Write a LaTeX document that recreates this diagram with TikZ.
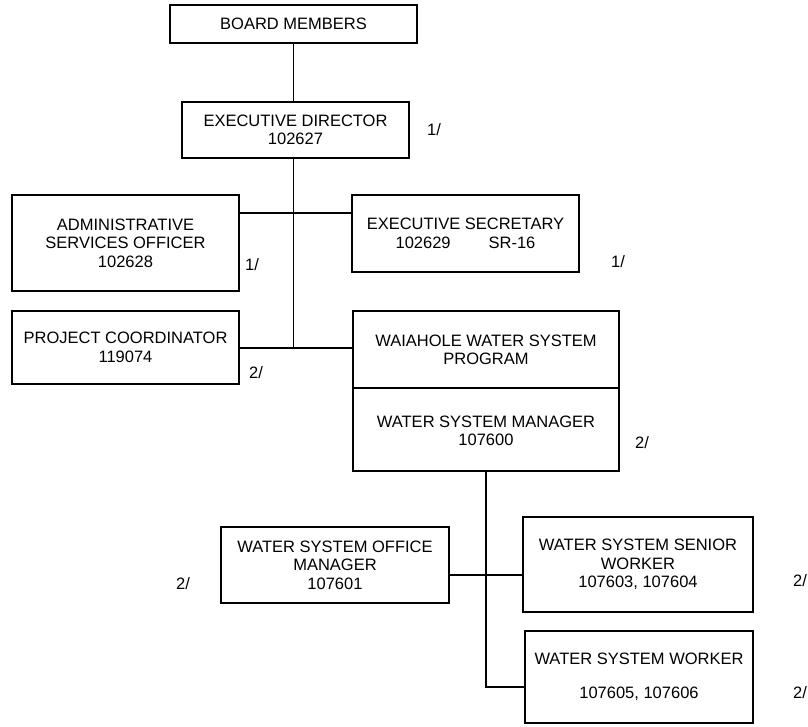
\documentclass[tikz,border=0pt]{standalone}
\usepackage{fontspec}
\setmainfont{Liberation Sans}
\begin{document}
\begin{tikzpicture}[x=1pt,y=-1pt,
  box/.style={draw,line width=1.1pt,align=center,inner sep=0pt,font=\fontsize{16.5}{18.5}\selectfont},
  note/.style={font=\fontsize{16.5}{18.5}\selectfont,inner sep=0pt},
  link/.style={line width=1.1pt}]
\useasboundingbox (0,0) rectangle (808,726);

\node[box,minimum width=247pt,minimum height=38pt] (board) at (293.5,24) {BOARD MEMBERS};
\node[box,minimum width=227pt,minimum height=56pt] (exec) at (295.5,130) {EXECUTIVE DIRECTOR\\102627};
\node[box,minimum width=227pt,minimum height=96pt] (admin) at (125.5,243) {ADMINISTRATIVE\\SERVICES OFFICER\\102628};
\node[box,minimum width=227pt,minimum height=77pt] (sec) at (465.5,233.5) {EXECUTIVE SECRETARY\\102629\hspace{38pt}SR-16};
\node[box,minimum width=227pt,minimum height=73pt] (proj) at (125.5,347.5) {PROJECT COORDINATOR\\119074};
\node[draw,line width=1.1pt,minimum width=266pt,minimum height=160pt,inner sep=0pt] (wai) at (486,391) {};
\node[note,align=center] (waitop) at (486,350) {WAIAHOLE WATER SYSTEM\\PROGRAM};
\node[note,align=center] (waibot) at (486,431) {WATER SYSTEM MANAGER\\107600};
\coordinate (divl) at (353,388);
\coordinate (divr) at (619,388);
\node[box,minimum width=228pt,minimum height=76pt] (office) at (335,565) {WATER SYSTEM OFFICE\\MANAGER\\107601};
\node[box,minimum width=230pt,minimum height=95pt] (senior) at (638,564.5) {WATER SYSTEM SENIOR\\WORKER\\107603, 107604};
\node[box,minimum width=228pt,minimum height=92pt] (worker) at (639,677) {WATER SYSTEM WORKER\\[15.5pt]107605, 107606};

\node[note] (n1) at (434,130) {1/};
\node[note] (n2) at (252,265) {1/};
\node[note] (n3) at (618,262) {1/};
\node[note] (n4) at (256,373) {2/};
\node[note] (n5) at (642,443) {2/};
\node[note] (n6) at (183,584) {2/};
\node[note] (n7) at (800,581) {2/};
\node[note] (n8) at (800,693) {2/};

\coordinate (j1) at (293.5,213);
\coordinate (j2) at (293.5,348);
\coordinate (j3) at (486,575);
\coordinate (j4) at (486,687);

\draw[link] (divl) -- (divr);
\draw[link] (board.south) -- (board.south |- exec.north);
\draw[link] (board.south |- exec.south) -- (j2);
\draw[link] (admin.east |- j1) -- (sec.west |- j1);
\draw[link] (proj.east |- j2) -- (wai.west |- j2);
\draw[link] (wai.south) -- (j4) -- (worker.west |- j4);
\draw[link] (office.east |- j3) -- (senior.west |- j3);
\end{tikzpicture}
\end{document}
